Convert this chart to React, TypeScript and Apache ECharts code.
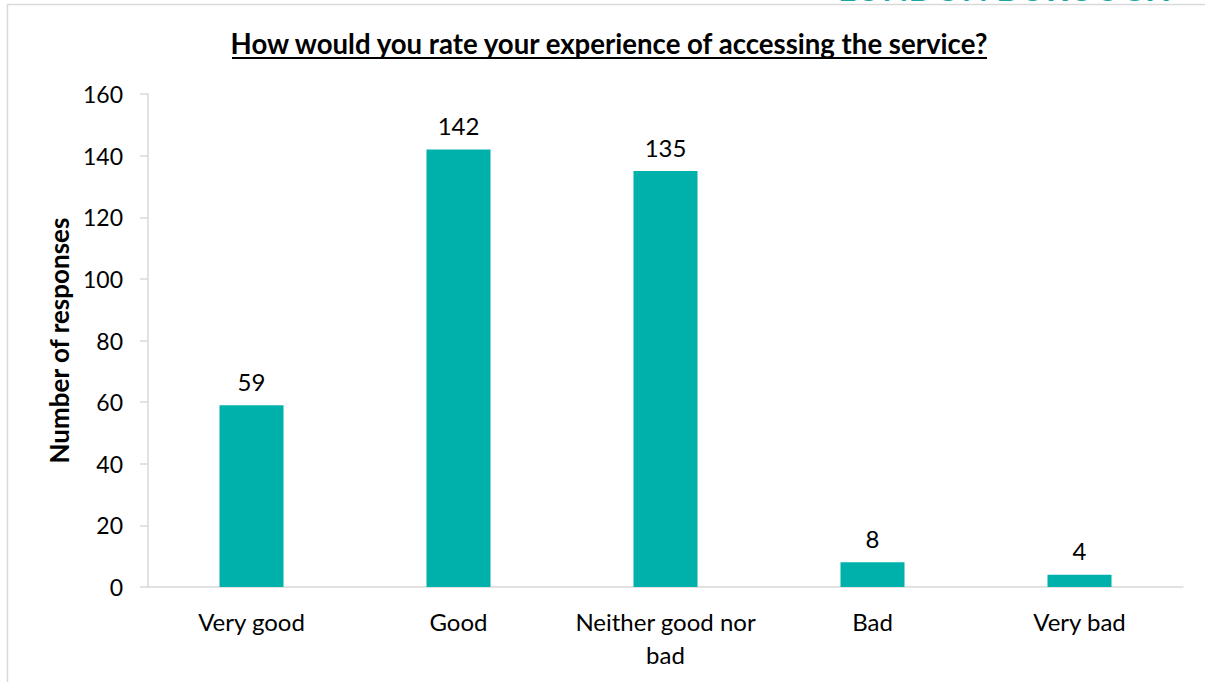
import React, { useEffect, useRef } from "react";
import * as echarts from "echarts";

const categories = ["Very good", "Good", "Neither good nor\nbad", "Bad", "Very bad"];
const responses = [59, 142, 135, 8, 4];
const yTicks = { min: 0, max: 160, interval: 20 };
const titleText = "How would you rate your experience of accessing the service?";
const yAxisTitle = "Number of responses";
const logoText = "LONDON BOROUGH";

const FONT = "Lato, 'Open Sans', sans-serif";

export default function App() {
  const ref = useRef<HTMLDivElement>(null);
  useEffect(() => {
    if (!ref.current) return;
    const chart = echarts.init(ref.current, null, { renderer: "svg" });
    chart.setOption({
      animation: false,
      backgroundColor: "#ffffff",
      textStyle: { fontFamily: FONT },
      graphic: [
        { type: "line", shape: { x1: 7, y1: 4.5, x2: 1205, y2: 4.5 }, style: { stroke: "#d9d9d9", lineWidth: 1.5 } },
        { type: "line", shape: { x1: 7.5, y1: 4, x2: 7.5, y2: 682 }, style: { stroke: "#d9d9d9", lineWidth: 1.5 } },
        {
          type: "text",
          x: 838,
          y: -30,
          style: { text: logoText, fill: "#1aa6a0", font: "bold 34px " + FONT },
        },
        {
          type: "text",
          x: 609,
          y: 43,
          style: {
            text: titleText,
            fill: "#000",
            font: "bold 27.6px " + FONT,
            textAlign: "center",
            textVerticalAlign: "middle",
          },
        },
        { type: "line", shape: { x1: 232, y1: 58, x2: 987, y2: 58 }, style: { stroke: "#000", lineWidth: 2 } },
      ],
      grid: { left: 148, right: 22, top: 94, bottom: 95, containLabel: false },
      xAxis: {
        type: "category",
        data: categories,
        axisLine: { show: true, lineStyle: { color: "#d9d9d9", width: 1.5 } },
        axisTick: { show: false },
        axisLabel: { color: "#000", fontSize: 24, fontFamily: FONT, margin: 18, lineHeight: 33, interval: 0 },
      },
      yAxis: {
        type: "value",
        min: yTicks.min,
        max: yTicks.max,
        interval: yTicks.interval,
        name: yAxisTitle,
        nameLocation: "middle",
        nameGap: 76,
        nameTextStyle: { color: "#000", fontSize: 26, fontWeight: "bold", fontFamily: FONT },
        axisLine: { show: true, lineStyle: { color: "#d9d9d9", width: 1.5 } },
        axisTick: { show: true, length: 8, lineStyle: { color: "#d9d9d9", width: 1.5 } },
        axisLabel: { color: "#000", fontSize: 23, fontFamily: FONT, margin: 25 },
        splitLine: { show: false },
      },
      series: [
        {
          type: "bar",
          data: responses,
          barWidth: 64,
          itemStyle: { color: "#00b0aa" },
          label: { show: true, position: "top", distance: 12, color: "#000", fontSize: 24, fontFamily: FONT },
        },
      ],
    });
    return () => chart.dispose();
  }, []);
  return <div ref={ref} style={{ position: "fixed", left: 0, top: 0, width: 1205, height: 682 }} />;
}
